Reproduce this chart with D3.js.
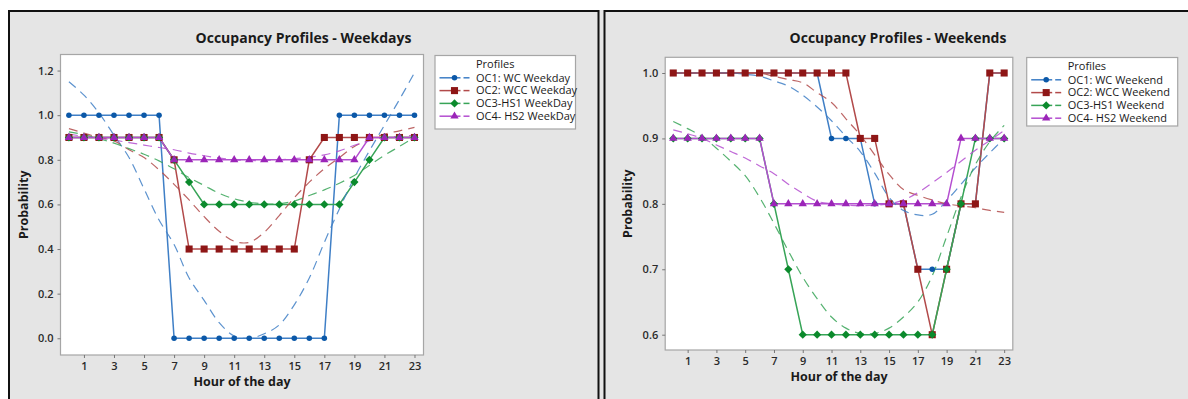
<!DOCTYPE html>
<html>
<head>
<meta charset="utf-8">
<script src="https://cdn.jsdelivr.net/npm/d3@7"></script>
<style>
  body { margin: 0; background: #fff; }
  svg { display: block; font-family: 'Open Sans', sans-serif; }
</style>
</head>
<body>
<div id="chart"></div>
<script>
// hours and tick labels
const hours = [0, 1, 2, 3, 4, 5, 6, 7, 8, 9, 10, 11, 12, 13, 14, 15, 16, 17, 18, 19, 20, 21, 22, 23];
const xTicks = [1, 3, 5, 7, 9, 11, 13, 15, 17, 19, 21, 23];
const wdYTicks = [0, 0.2, 0.4, 0.6, 0.8, 1.0, 1.2];
const weYTicks = [0.6, 0.7, 0.8, 0.9, 1.0];

// weekdays
const wdLabels = ['OC1: WC Weekday', 'OC2: WCC Weekday', 'OC3-HS1 WeekDay', 'OC4- HS2 WeekDay'];
const wdOC1 = [1, 1, 1, 1, 1, 1, 1, 0, 0, 0, 0, 0, 0, 0, 0, 0, 0, 0, 1, 1, 1, 1, 1, 1];
const wdOC2 = [0.9, 0.9, 0.9, 0.9, 0.9, 0.9, 0.9, 0.8, 0.4, 0.4, 0.4, 0.4, 0.4, 0.4, 0.4, 0.4, 0.8, 0.9, 0.9, 0.9, 0.9, 0.9, 0.9, 0.9];
const wdOC3 = [0.9, 0.9, 0.9, 0.9, 0.9, 0.9, 0.9, 0.8, 0.7, 0.6, 0.6, 0.6, 0.6, 0.6, 0.6, 0.6, 0.6, 0.6, 0.6, 0.7, 0.8, 0.9, 0.9, 0.9];
const wdOC4 = [0.9, 0.9, 0.9, 0.9, 0.9, 0.9, 0.9, 0.8, 0.8, 0.8, 0.8, 0.8, 0.8, 0.8, 0.8, 0.8, 0.8, 0.8, 0.8, 0.8, 0.9, 0.9, 0.9, 0.9];
// smoothed (dashed) curves
const wdFit1 = [1.15, 1.09, 1.01, 0.91, 0.81, 0.67, 0.53, 0.42, 0.27, 0.17, 0.07, 0.01, 0.0, 0.02, 0.06, 0.15, 0.27, 0.43, 0.58, 0.72, 0.84, 0.955, 1.07, 1.19];
const wdFit2 = [0.94, 0.92, 0.90, 0.885, 0.845, 0.81, 0.755, 0.69, 0.62, 0.545, 0.48, 0.435, 0.43, 0.475, 0.55, 0.63, 0.70, 0.76, 0.81, 0.86, 0.89, 0.915, 0.93, 0.945];
const wdFit3 = [0.925, 0.913, 0.895, 0.875, 0.85, 0.825, 0.795, 0.76, 0.72, 0.685, 0.65, 0.625, 0.61, 0.603, 0.603, 0.615, 0.64, 0.665, 0.695, 0.73, 0.775, 0.82, 0.86, 0.90];
const wdFit4 = [0.915, 0.905, 0.897, 0.888, 0.877, 0.866, 0.855, 0.845, 0.83, 0.818, 0.808, 0.80, 0.797, 0.797, 0.80, 0.805, 0.812, 0.822, 0.84, 0.865, 0.885, 0.90, 0.905, 0.91];

// weekends
const weLabels = ['OC1: WC Weekend', 'OC2: WCC Weekend', 'OC3-HS1 Weekend', 'OC4- HS2 Weekend'];
const weOC1 = [1, 1, 1, 1, 1, 1, 1, 1, 1, 1, 1, 0.9, 0.9, 0.9, 0.8, 0.8, 0.8, 0.7, 0.7, 0.7, 0.8, 0.8, 1, 1];
const weOC2 = [1, 1, 1, 1, 1, 1, 1, 1, 1, 1, 1, 1, 1, 0.9, 0.9, 0.8, 0.8, 0.7, 0.6, 0.7, 0.8, 0.8, 1, 1];
const weOC3 = [0.9, 0.9, 0.9, 0.9, 0.9, 0.9, 0.9, 0.8, 0.7, 0.6, 0.6, 0.6, 0.6, 0.6, 0.6, 0.6, 0.6, 0.6, 0.6, 0.7, 0.8, 0.9, 0.9, 0.9];
const weOC4 = [0.9, 0.9, 0.9, 0.9, 0.9, 0.9, 0.9, 0.8, 0.8, 0.8, 0.8, 0.8, 0.8, 0.8, 0.8, 0.8, 0.8, 0.8, 0.8, 0.8, 0.9, 0.9, 0.9, 0.9];
const weFit1 = [1.0, 1.0, 1.0, 1.0, 1.0, 0.998, 0.995, 0.988, 0.98, 0.966, 0.948, 0.927, 0.903, 0.88, 0.847, 0.81, 0.79, 0.783, 0.784, 0.805, 0.83, 0.855, 0.878, 0.90];
const weFit2 = [1.0, 1.0, 1.0, 1.0, 1.0, 1.0, 1.0, 0.995, 0.99, 0.985, 0.97, 0.955, 0.93, 0.905, 0.875, 0.845, 0.822, 0.813, 0.806, 0.80, 0.797, 0.794, 0.79, 0.787];
const weFit3 = [0.926, 0.915, 0.903, 0.885, 0.865, 0.843, 0.81, 0.77, 0.728, 0.688, 0.655, 0.627, 0.61, 0.602, 0.602, 0.61, 0.627, 0.65, 0.69, 0.75, 0.81, 0.86, 0.895, 0.92];
const weFit4 = [0.913, 0.907, 0.90, 0.89, 0.88, 0.87, 0.858, 0.846, 0.83, 0.816, 0.804, 0.80, 0.798, 0.797, 0.798, 0.80, 0.806, 0.817, 0.832, 0.848, 0.865, 0.882, 0.897, 0.912];

const STYLE = [
  { marker: '#0b58a8', line: '#3f7fc6', shape: 'circle' },
  { marker: '#8e1616', line: '#b24a4a', shape: 'square' },
  { marker: '#0b8a2c', line: '#37a457', shape: 'diamond' },
  { marker: '#9b25b8', line: '#b44ed0', shape: 'triangle' },
];

const svg = d3.select('#chart').append('svg')
  .attr('width', 1188)
  .attr('height', 399);

// grey background + frames of both panels
svg.append('rect').attr('x', 8).attr('y', 10).attr('width', 1190).attr('height', 400).attr('fill', '#e5e5e5');
svg.append('rect').attr('x', 9).attr('y', 11).attr('width', 589.5).attr('height', 400)
  .attr('fill', 'none').attr('stroke', '#111').attr('stroke-width', 2);
svg.append('rect').attr('x', 604.5).attr('y', 11).attr('width', 600).attr('height', 400)
  .attr('fill', 'none').attr('stroke', '#111').attr('stroke-width', 2);

function markerPath(shape) {
  if (shape === 'circle') return d3.symbol(d3.symbolCircle, 24)();
  if (shape === 'square') return d3.symbol(d3.symbolSquare, 50)();
  if (shape === 'diamond') return d3.symbol(d3.symbolSquare, 34)();
  return d3.symbol(d3.symbolTriangle, 30)();
}

function drawPanel(cfg) {
  const { plot } = cfg;
  const g = svg.append('g');

  const x = d3.scaleLinear().domain([-0.56, 23.6]).range([plot.x0, plot.x1]);
  const y = d3.scaleLinear().domain(cfg.yDomain).range([plot.y1, plot.y0]);

  g.append('text')
    .attr('x', cfg.titleX)
    .attr('y', 38)
    .attr('dy', '0.35em')
    .attr('text-anchor', 'middle')
    .style('font-size', '14px')
    .style('font-weight', 700)
    .style('fill', '#1a1a1a')
    .text(cfg.title);

  g.append('rect')
    .attr('x', plot.x0).attr('y', plot.y0)
    .attr('width', plot.x1 - plot.x0).attr('height', plot.y1 - plot.y0)
    .attr('fill', '#fff').attr('stroke', '#a6a6a6').attr('stroke-width', 1.2);

  // axes
  const yAxis = g.append('g')
    .attr('transform', `translate(${plot.x0},0)`)
    .call(d3.axisLeft(y).tickValues(cfg.yTicks).tickFormat(d3.format('.1f')).tickSize(3).tickPadding(4));
  const xAxis = g.append('g')
    .attr('transform', `translate(0,${plot.y1})`)
    .call(d3.axisBottom(x).tickValues(xTicks).tickSize(3).tickPadding(4));
  [yAxis, xAxis].forEach((a) => {
    a.select('.domain').remove();
    a.selectAll('line').attr('stroke', '#777');
    a.selectAll('text')
      .style('font-family', "'Open Sans', sans-serif")
      .style('font-size', '11px')
      .style('font-weight', 600)
      .style('fill', '#2a2a2a');
  });

  g.append('text')
    .attr('x', (plot.x0 + plot.x1) / 2)
    .attr('y', plot.y1 + 27)
    .attr('dy', '0.35em')
    .attr('text-anchor', 'middle')
    .style('font-size', '12.5px')
    .style('font-weight', 700)
    .style('fill', '#1a1a1a')
    .text('Hour of the day');

  g.append('text')
    .attr('transform', `translate(${cfg.yTitleX},${(plot.y0 + plot.y1) / 2}) rotate(-90)`)
    .attr('dy', '0.35em')
    .attr('text-anchor', 'middle')
    .style('font-size', '12.5px')
    .style('font-weight', 700)
    .style('fill', '#1a1a1a')
    .text('Probability');

  const line = d3.line().x((d, i) => x(hours[i])).y((d) => y(d));
  const smooth = d3.line().x((d, i) => x(hours[i])).y((d) => y(d)).curve(d3.curveCatmullRom);

  // connect lines
  cfg.series.forEach((s, k) => {
    g.append('path')
      .attr('d', line(s))
      .attr('fill', 'none')
      .attr('stroke', STYLE[k].line)
      .attr('stroke-width', 1.5);
  });

  // dashed smoothers
  cfg.fits.forEach((f, k) => {
    g.append('path')
      .attr('d', smooth(f))
      .attr('fill', 'none')
      .attr('stroke', STYLE[k].line)
      .attr('stroke-opacity', 0.85)
      .attr('stroke-width', 1.2)
      .attr('stroke-dasharray', '9,6');
  });

  // markers
  cfg.series.forEach((s, k) => {
    g.append('g')
      .selectAll('path')
      .data(s)
      .join('path')
      .attr('d', markerPath(STYLE[k].shape))
      .attr('transform', (d, i) => `translate(${x(hours[i])},${y(d)})${STYLE[k].shape === 'diamond' ? ' rotate(45)' : ''}`)
      .attr('fill', STYLE[k].marker);
  });

  // legend
  const lg = cfg.legend;
  const legend = g.append('g');
  legend.append('rect')
    .attr('x', lg.x).attr('y', lg.y).attr('width', lg.w).attr('height', lg.h)
    .attr('fill', '#fff').attr('stroke', '#a6a6a6').attr('stroke-width', 1.2);
  legend.append('text')
    .attr('x', lg.x + 41).attr('y', lg.y + 8.5).attr('dy', '0.35em')
    .style('font-size', '11px').style('fill', '#1a1a1a')
    .text('Profiles');

  cfg.labels.forEach((label, k) => {
    const ry = lg.y + 22.3 + k * 12.8;
    const sx = lg.x + 4.5;
    legend.append('line')
      .attr('x1', sx).attr('x2', sx + 21).attr('y1', ry).attr('y2', ry)
      .attr('stroke', STYLE[k].line).attr('stroke-width', 1.5);
    legend.append('line')
      .attr('x1', sx + 24).attr('x2', sx + 30).attr('y1', ry).attr('y2', ry)
      .attr('stroke', STYLE[k].line).attr('stroke-width', 1.5);
    legend.append('path')
      .attr('d', markerPath(STYLE[k].shape))
      .attr('transform', `translate(${sx + 15},${ry})${STYLE[k].shape === 'diamond' ? ' rotate(45)' : ''}`)
      .attr('fill', STYLE[k].marker);
    legend.append('text')
      .attr('x', lg.x + 41).attr('y', ry).attr('dy', '0.35em')
      .style('font-size', '11px').style('fill', '#1a1a1a')
      .text(label);
  });
}

drawPanel({
  title: 'Occupancy Profiles - Weekdays',
  titleX: 303.5,
  yTitleX: 24,
  plot: { x0: 60.5, x1: 423.5, y0: 54.5, y1: 355 },
  yDomain: [-0.075, 1.272],
  yTicks: wdYTicks,
  series: [wdOC1, wdOC2, wdOC3, wdOC4],
  fits: [wdFit1, wdFit2, wdFit3, wdFit4],
  labels: wdLabels,
  legend: { x: 435, y: 55.5, w: 140.5, h: 73.5 },
});

drawPanel({
  title: 'Occupancy Profiles - Weekends',
  titleX: 898,
  yTitleX: 628,
  plot: { x0: 665.2, x1: 1012.8, y0: 57.3, y1: 350 },
  yDomain: [0.5766, 1.024],
  yTicks: weYTicks,
  series: [weOC1, weOC2, weOC3, weOC4],
  fits: [weFit1, weFit2, weFit3, weFit4],
  labels: weLabels,
  legend: { x: 1026.7, y: 57.5, w: 151, h: 68.5 },
});
</script>
</body>
</html>
